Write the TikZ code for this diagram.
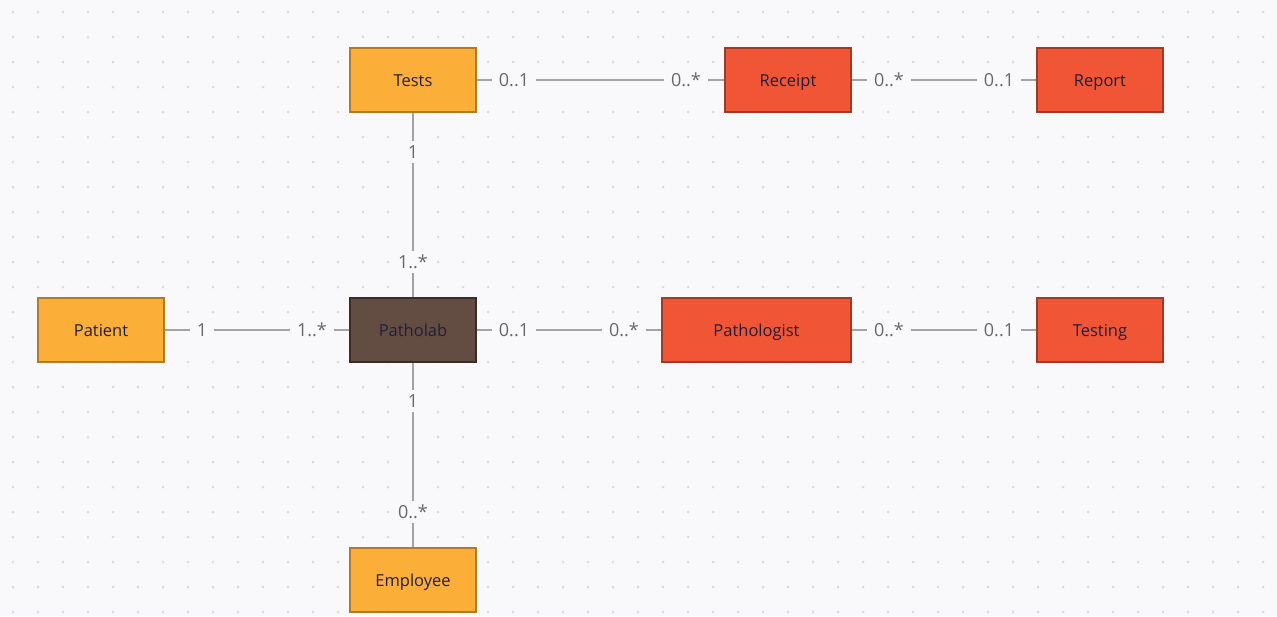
\documentclass[tikz,border=0pt]{standalone}
\usepackage{fontspec}
\setmainfont{Open Sans}
\usetikzlibrary{calc}
\pgfdeclarelayer{grid}
\pgfdeclarelayer{wires}
\pgfsetlayers{grid,wires,main}
\definecolor{canvas}{HTML}{F9F9FB}
\definecolor{griddot}{HTML}{DCDCE0}
\definecolor{wire}{HTML}{A3A3A3}
\definecolor{labeltext}{HTML}{686868}
\definecolor{ink}{HTML}{20203A}
\definecolor{amber}{HTML}{FBAE38}
\definecolor{amberedge}{HTML}{B27A22}
\definecolor{tomato}{HTML}{F05536}
\definecolor{tomatoedge}{HTML}{A33A26}
\definecolor{umber}{HTML}{634C42}
\definecolor{umberedge}{HTML}{3A2C26}
\tikzset{
  x=1pt, y=-1pt,
  entity/.style={draw, line width=2pt, minimum width=126pt, minimum height=64pt,
    inner sep=0pt, text=ink, text height=12pt, text depth=0pt,
    font=\fontsize{16.5}{19}\selectfont},
  plain/.style={entity, fill=amber, draw=amberedge},
  hot/.style={entity, fill=tomato, draw=tomatoedge},
  core/.style={entity, fill=umber, draw=umberedge},
  halo/.style={draw=canvas, line width=22pt},
  wireline/.style={draw=wire, line width=2pt},
  mult/.style={fill=canvas, text=labeltext, inner xsep=7pt, inner ysep=5pt,
    text height=12pt, text depth=0pt, font=\fontsize{18}{21}\selectfont},
}
\begin{document}
\begin{tikzpicture}
\begin{pgfonlayer}{grid}
\fill[canvas] (0,0) rectangle (1277,616);
% dotted grid
\foreach \i in {0,...,50} {
  \foreach \j in {0,...,24} {
    \fill[griddot] (13+25*\i, 12+25*\j) circle (1.5pt);
  }
}
\end{pgfonlayer}
\useasboundingbox (0,0) rectangle (1277,616);
% entities
\node[plain] (tests) at (413,80) {Tests};
\node[hot] (receipt) at (788,80) {Receipt};
\node[hot] (report) at (1100,80) {Report};
\node[plain] (patient) at (101,330) {Patient};
\node[core] (patholab) at (413,330) {Patholab};
\node[hot, minimum width=189pt] (pathologist) at (756.5,330) {Pathologist};
\node[hot] (testing) at (1100,330) {Testing};
\node[plain] (employee) at (413,580) {Employee};
% connectors: a canvas-coloured halo under each line
\begin{pgfonlayer}{wires}
\foreach \a/\b in {tests/receipt, receipt/report, tests/patholab, patient/patholab,
                   patholab/pathologist, pathologist/testing, patholab/employee} {
  \path[halo] (\a) -- (\b);
}
\foreach \a/\b in {tests/receipt, receipt/report, tests/patholab, patient/patholab,
                   patholab/pathologist, pathologist/testing, patholab/employee} {
  \path[wireline] (\a) -- (\b);
}
\end{pgfonlayer}
% multiplicities
\node[mult] (m1) at ([xshift=37pt]tests.east) {0..1};
\node[mult] (m2) at ([xshift=-38pt]receipt.west) {0..*};
\node[mult] (m3) at ([xshift=37pt]receipt.east) {0..*};
\node[mult] (m4) at ([xshift=-37pt]report.west) {0..1};
\node[mult] (m5) at ([yshift=-39pt]tests.south) {1};
\node[mult] (m6) at ([yshift=35pt]patholab.north) {1..*};
\node[mult] (m7) at ([xshift=37pt]patient.east) {1};
\node[mult] (m8) at ([xshift=-37pt]patholab.west) {1..*};
\node[mult] (m9) at ([xshift=37pt]patholab.east) {0..1};
\node[mult] (m10) at ([xshift=-37pt]pathologist.west) {0..*};
\node[mult] (m11) at ([xshift=37pt]pathologist.east) {0..*};
\node[mult] (m12) at ([xshift=-37pt]testing.west) {0..1};
\node[mult] (m13) at ([yshift=-38pt]patholab.south) {1};
\node[mult] (m14) at ([yshift=35pt]employee.north) {0..*};
\end{tikzpicture}
\end{document}
